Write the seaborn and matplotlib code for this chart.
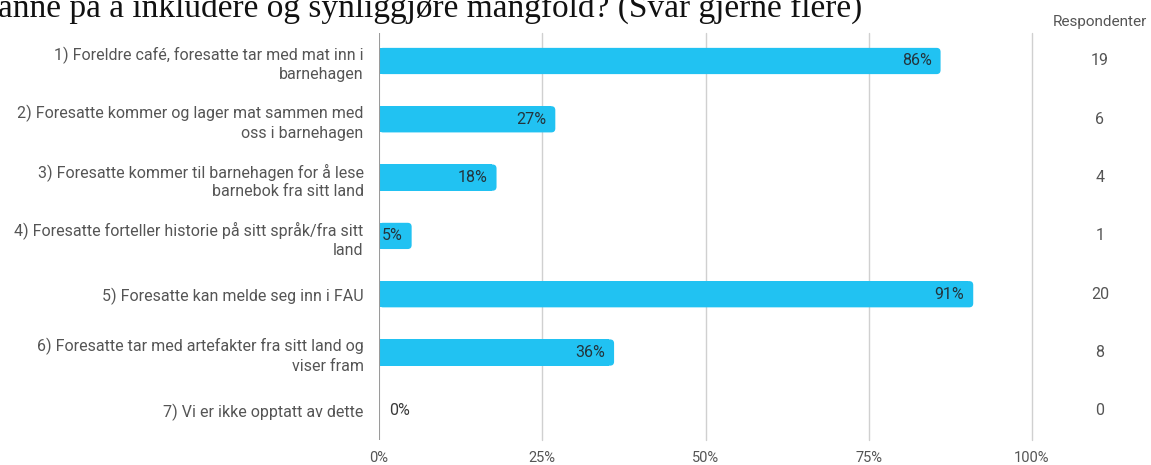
import matplotlib
matplotlib.use("Agg")
import matplotlib.pyplot as plt
from matplotlib.patches import FancyBboxPatch
import seaborn as sns
import pandas as pd

categories = [
    "1) Foreldre café, foresatte tar med mat inn i\nbarnehagen",
    "2) Foresatte kommer og lager mat sammen med\noss i barnehagen",
    "3) Foresatte kommer til barnehagen for å lese\nbarnebok fra sitt land",
    "4) Foresatte forteller historie på sitt språk/fra sitt\nland",
    "5) Foresatte kan melde seg inn i FAU",
    "6) Foresatte tar med artefakter fra sitt land og\nviser fram",
    "7) Vi er ikke opptatt av dette",
]
percent = [86, 27, 18, 5, 91, 36, 0]
respondents = [19, 6, 4, 1, 20, 8, 0]
x_ticks = [0, 25, 50, 75, 100]
x_tick_labels = ["0%", "25%", "50%", "75%", "100%"]
title = "anne på å inkludere og synliggjøre mangfold? (Svar gjerne flere)"

df = pd.DataFrame({"kategori": categories, "prosent": percent})

sns.set_theme(style="white")
plt.rcParams["font.family"] = ["Roboto", "DejaVu Sans"]

W, H = 1151, 465
fig = plt.figure(figsize=(W / 100, H / 100), dpi=100)
left_px, right_px, top_px, bot_px = 379, 1032, 33, 440
ax = fig.add_axes([left_px / W, 1 - bot_px / H, (right_px - left_px) / W, (bot_px - top_px) / H])

bar_color = "#21c2f2"
sns.barplot(data=df, x="prosent", y="kategori", color=bar_color, width=0.45,
            saturation=1, ax=ax, zorder=3)

ax.set_xlim(0, 100)
ax.set_ylim(6.5, -0.48)

# rounded right ends for the bars
x_per_px = 100 / (right_px - left_px)
y_per_px = 6.98 / (bot_px - top_px)
radius = 4 * x_per_px
for patch in list(ax.patches):
    x0, y0 = patch.get_x(), patch.get_y()
    w, h = patch.get_width(), patch.get_height()
    if w <= 0:
        patch.set_visible(False)
        continue
    patch.set_linewidth(0)
    rounded = FancyBboxPatch((x0, y0), w, h,
                             boxstyle=f"round,pad=0,rounding_size={radius}",
                             mutation_aspect=y_per_px / x_per_px,
                             facecolor=bar_color, edgecolor="none", zorder=3)
    ax.add_patch(rounded)
    patch.set_width(max(w - radius * 1.2, 0))

# value labels
for i, p in enumerate(percent):
    if p > 0:
        ax.text(p - 9 * x_per_px, i, f"{p}%", ha="right", va="center",
                fontsize=11.5, color="#24343c", zorder=4)
    else:
        ax.text(10 * x_per_px, i, f"{p}%", ha="left", va="center",
                fontsize=11.5, color="#3a3a3a", zorder=4)

# grid and axes
ax.set_xticks(x_ticks)
ax.set_xticklabels(x_tick_labels, fontsize=10.5, color="#555555")
ax.grid(False)
for xv in x_ticks[1:]:
    ax.axvline(xv, color="#d0d0d0", lw=1, zorder=1, clip_on=False)
ax.axvline(0, color="#9a9a9a", lw=1.5, zorder=4)
for s in ax.spines.values():
    s.set_visible(False)
ax.tick_params(axis="x", length=0, pad=8)
ax.tick_params(axis="y", length=0, pad=11)
ax.set_xlabel("")
ax.set_ylabel("")
for lbl in ax.get_yticklabels():
    lbl.set_fontsize(11.5)
    lbl.set_color("#555555")
    lbl.set_linespacing(1.32)
    lbl.set_horizontalalignment("right")
    lbl.set_multialignment("right")

# respondents column
col_x = 1100 / W
fig.text(col_x, 1 - 22 / H, "Respondenter", ha="center", va="center",
         fontsize=11, color="#555555")
for i, n in enumerate(respondents):
    yd = ax.transData.transform((0, i))[1]
    fig.text(col_x, yd / H, str(n), ha="center", va="center",
             fontsize=11.5, color="#555555")

# heading, clipped at the top edge
fig.text(-2 / W, 1 - 17 / H, title, ha="left", va="baseline",
         fontsize=24, color="#111111", family=["Liberation Serif"])

fig.savefig("out.png", dpi=100)
